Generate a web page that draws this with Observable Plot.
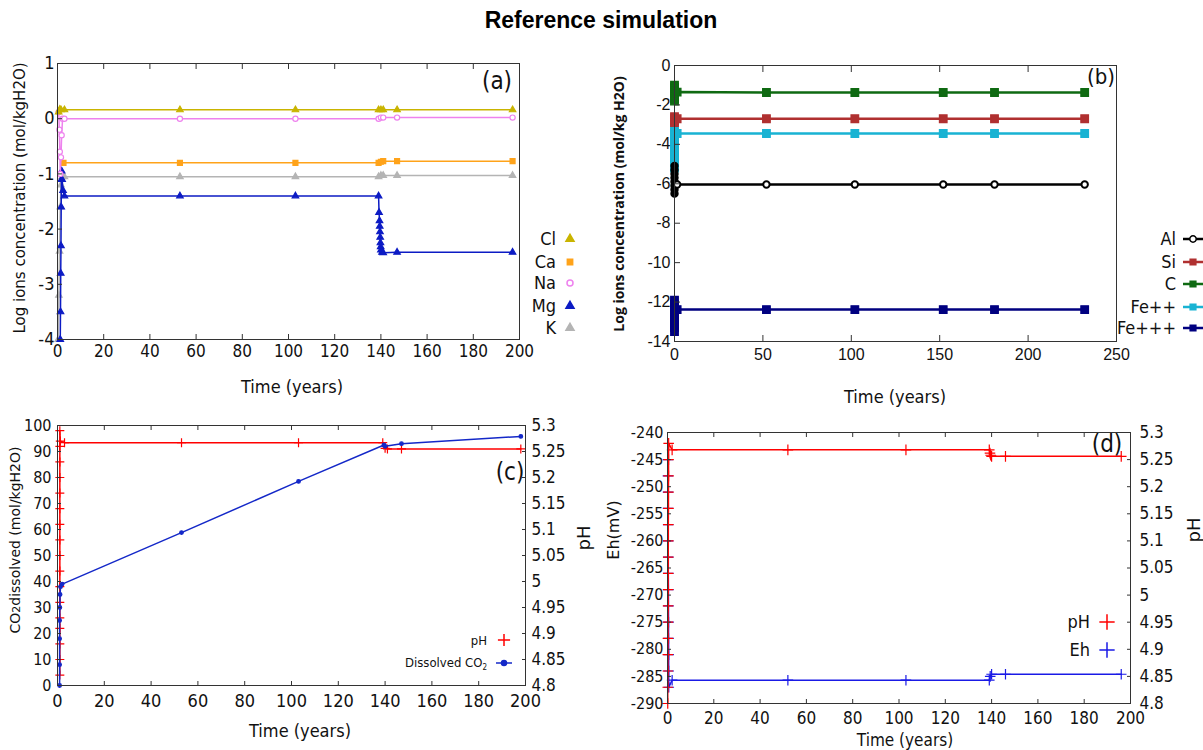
<!DOCTYPE html>
<html><head><meta charset="utf-8">
<script src="https://cdn.jsdelivr.net/npm/d3@7"></script>
<script src="https://cdn.jsdelivr.net/npm/@observablehq/plot@0.6"></script>
<style>
body{margin:0;background:#fff}
#root{position:relative;width:1203px;height:750px;overflow:hidden;background:#fff}
.abs{position:absolute;white-space:nowrap;line-height:1}
</style></head><body><div id="root"></div>
<script>
// ---------------- DATA ----------------
// Panel (a): log ion concentrations (mol/kgH2O) vs time (years)
const aXTicks = [0, 20, 40, 60, 80, 100, 120, 140, 160, 180, 200];
const aYTicks = [1, 0, -1, -2, -3, -4];
const clT = [0.5, 1, 1.5, 3, 53, 103, 139, 140, 141, 147, 197];
const clV = [0.12, 0.17, 0.16, 0.16, 0.16, 0.16, 0.16, 0.16, 0.16, 0.16, 0.16];
const naT = [0.5, 0.8, 1.0, 1.2, 1.5, 1.8, 2.2, 3, 53, 103, 139, 140, 141, 147, 197];
const naV = [0.12, -0.2, -0.6, -1.0, -0.7, -0.3, 0.0, 0.0, 0.0, 0.0, 0.0, 0.02, 0.02, 0.02, 0.02];
const caT = [2.6, 53, 103, 139, 140, 141, 147, 197];
const caV = [-0.8, -0.8, -0.8, -0.8, -0.78, -0.77, -0.77, -0.77];
const kT = [0.3, 0.6, 0.9, 1.2, 1.5, 2.0, 3, 53, 103, 139, 140, 141, 147, 197];
const kV = [-4, -3.2, -2.4, -1.6, -1.2, -1.05, -1.05, -1.05, -1.05, -1.05, -1.03, -1.03, -1.03, -1.03];
const mgT = [1.2, 1.3, 1.4, 1.5, 1.6, 1.7, 1.8, 2.0, 2.4, 3, 53, 103, 139, 139.2, 139.4, 139.5, 139.6, 139.7, 139.8, 139.9, 140, 140.5, 141, 147, 197];
const mgV = [-4, -3.5, -2.8, -2.3, -1.6, -1.1, -0.95, -1.1, -1.3, -1.4, -1.4, -1.4, -1.4, -1.7, -1.85, -1.95, -2.05, -2.15, -2.25, -2.32, -2.38, -2.42, -2.43, -2.42, -2.42];

// Panel (b)
const bXTicks = [0, 50, 100, 150, 200, 250];
const bYTicks = [0, -2, -4, -6, -8, -10, -12, -14];
const alT = [0, 0, 0, 0, 0, 0, 0, 0, 1.5, 52, 102, 152, 181, 232];
const alV = [-5.1, -5.3, -5.5, -5.7, -5.9, -6.1, -6.3, -6.5, -6.04, -6.04, -6.04, -6.04, -6.04, -6.04];
const siT = [0, 0, 0, 0, 1.5, 52, 102, 152, 181, 232];
const siV = [-2.6, -2.7, -2.8, -2.9, -2.7, -2.7, -2.7, -2.7, -2.7, -2.7];
const cT = [0, 0, 0, 0, 0, 0, 0, 0, 0, 1.5, 52, 102, 152, 181, 232];
const cV = [-1.0, -1.1, -1.2, -1.3, -1.4, -1.5, -1.6, -1.7, -1.8, -1.35, -1.37, -1.37, -1.37, -1.37, -1.37];
const fe2T = [0, 0, 0, 0, 0, 0, 0, 0, 0, 0, 0, 1.5, 52, 102, 152, 181, 232];
const fe2V = [-3.2, -3.4, -3.6, -3.8, -4.0, -4.2, -4.4, -4.6, -4.8, -5.0, -5.2, -3.45, -3.45, -3.45, -3.45, -3.45, -3.45];
const fe3T = [0, 0, 0, 0, 0, 0, 0, 0, 0, 1.5, 52, 102, 152, 181, 232];
const fe3V = [-11.9, -12.1, -12.3, -12.5, -12.7, -12.9, -13.1, -13.3, -13.5, -12.38, -12.38, -12.38, -12.38, -12.38, -12.38];

// Panel (c)
const cXTicks = [0, 20, 40, 60, 80, 100, 120, 140, 160, 180, 200];
const cYTicks = [0, 10, 20, 30, 40, 50, 60, 70, 80, 90, 100];
const phTicks = [4.8, 4.85, 4.9, 4.95, 5, 5.05, 5.1, 5.15, 5.2, 5.25, 5.3];
const phCT = [1, 1, 1, 1, 1, 1, 1, 1, 1, 1, 1, 1, 1, 1, 1, 1, 1, 1.2, 3, 53, 103, 139, 140, 141, 147, 198];
const phCV = [4.82, 4.85, 4.88, 4.91, 4.93, 4.96, 4.99, 5.02, 5.05, 5.08, 5.11, 5.14, 5.17, 5.2, 5.23, 5.26, 5.29, 5.27, 5.267, 5.267, 5.267, 5.267, 5.256, 5.255, 5.255, 5.255];
const co2T = [0.9, 0.9, 0.9, 0.9, 1.0, 1.1, 1.3, 2, 53, 103, 139.5, 140, 147, 198];
const co2V = [0, 8, 18, 25, 30, 35, 38, 39, 58.8, 78.5, 92.5, 92, 93, 95.8];

// Panel (d)
const dXTicks = [0, 20, 40, 60, 80, 100, 120, 140, 160, 180, 200];
const dYTicks = [-240, -245, -250, -255, -260, -265, -270, -275, -280, -285, -290];
const phDT = [0.1, 0.1, 0.15, 0.15, 0.2, 0.2, 0.25, 0.25, 0.3, 0.3, 0.35, 0.35, 0.4, 0.4, 0.45, 0.45, 0.5, 2, 52, 103, 139, 139.3, 139.6, 140, 146, 196];
const phDV = [4.8, 4.83, 4.86, 4.89, 4.92, 4.95, 4.98, 5.01, 5.04, 5.07, 5.1, 5.13, 5.16, 5.19, 5.22, 5.25, 5.28, 5.268, 5.268, 5.268, 5.268, 5.262, 5.258, 5.256, 5.256, 5.256];
const ehT = [0.2, 0.2, 0.25, 0.25, 0.3, 0.3, 0.35, 0.35, 0.4, 0.4, 0.45, 0.45, 0.5, 0.5, 0.55, 2, 52, 103, 139, 139.4, 140, 146, 196];
const ehV = [-245, -248, -251, -254, -257, -260, -263, -266, -269, -272, -275, -278, -281, -284, -287, -285.7, -285.7, -285.7, -285.7, -285, -284.6, -284.6, -284.6];

// ---------------- HELPERS ----------------
const root = document.getElementById("root");
const NARROW = '"Liberation Sans Narrow","DejaVu Sans Condensed","Liberation Sans",Arial,sans-serif';
const SANS = '"DejaVu Sans",Verdana,sans-serif';
const ARIAL = '"Liberation Sans",Arial,sans-serif';
const rows = (T, V) => T.map((t, i) => ({t, v: V[i]}));
const fmt = d => String(+(+d).toFixed(2));

function label(txt, x, y, {size = 14, font = SANS, rotate = false, weight = "normal", color = "#111", html = false, anchor = "middle"} = {}) {
  const d = document.createElement("div");
  d.className = "abs";
  if (html) d.innerHTML = txt; else d.textContent = txt;
  const tx = anchor === "end" ? "-100%" : anchor === "start" ? "0" : "-50%";
  Object.assign(d.style, {left: x + "px", top: y + "px", fontSize: size + "px", fontFamily: font, fontWeight: weight, color,
    transform: `translate(${tx},-50%)${rotate ? " rotate(-90deg)" : ""}`});
  root.appendChild(d);
}
const symbolMap = {triangle: d3.symbolTriangle, square: d3.symbolSquare, circle: d3.symbolCircle, plus: d3.symbolPlus};
function legendItem(txt, rightX, y, markerX, color, symbol, {size = 17, font = NARROW, fill = color, r = 3, lineW = 20, strokeWidth = 1.5} = {}) {
  if (txt) label(txt, rightX, y, {size, font, anchor: "end"});
  const ns = "http://www.w3.org/2000/svg";
  const svg = document.createElementNS(ns, "svg");
  const w = lineW + 12, h = 20;
  svg.setAttribute("width", w); svg.setAttribute("height", h);
  Object.assign(svg.style, {position: "absolute", left: (markerX - w / 2) + "px", top: (y - h / 2) + "px", overflow: "visible"});
  const line = document.createElementNS(ns, "line");
  line.setAttribute("x1", w / 2 - lineW / 2); line.setAttribute("x2", w / 2 + lineW / 2);
  line.setAttribute("y1", h / 2); line.setAttribute("y2", h / 2);
  line.setAttribute("stroke", color); line.setAttribute("stroke-width", strokeWidth);
  svg.appendChild(line);
  const p = document.createElementNS(ns, "path");
  p.setAttribute("d", d3.symbol(symbolMap[symbol], Math.PI * r * r)());
  p.setAttribute("transform", `translate(${w / 2},${h / 2})`);
  p.setAttribute("fill", fill); p.setAttribute("stroke", color); p.setAttribute("stroke-width", 1.5);
  svg.appendChild(p);
  root.appendChild(svg);
}
function panel({left, top, width, height, mL, mR, mT, mB, xDomain, yDomain, marks}) {
  const svg = Plot.plot({width, height, marginLeft: mL, marginRight: mR, marginTop: mT, marginBottom: mB,
    x: {domain: xDomain}, y: {domain: yDomain},
    style: {background: "transparent", overflow: "visible", color: "#111"}, marks});
  svg.style.position = "absolute"; svg.style.left = left + "px"; svg.style.top = top + "px";
  root.appendChild(svg);
}
function seriesMarks(list, lineW) {
  const out = [];
  for (const s of list) {
    const data = rows(s.t, s.v);
    out.push(Plot.line(data, {x: "t", y: "v", stroke: s.color, strokeWidth: lineW}));
    out.push(Plot.dot(data, {x: "t", y: "v", symbol: s.symbol, r: s.r, fill: s.fill, stroke: s.color, strokeWidth: s.sw || 1.2}));
  }
  return out;
}
const TICK = "#333";

// ---------------- TITLE ----------------
label("Reference simulation", 601, 20, {size: 23, font: ARIAL, weight: "bold", color: "#000"});

// ---------------- PANEL (a) ----------------
const aSeries = [
  {name: "K", t: kT, v: kV, color: "#b4b4b4", symbol: "triangle", r: 2.4, fill: "#b4b4b4"},
  {name: "Mg", t: mgT, v: mgV, color: "#0c1bc4", symbol: "triangle", r: 2.4, fill: "#0c1bc4"},
  {name: "Ca", t: caT, v: caV, color: "#ffa31a", symbol: "square", r: 2.8, fill: "#ffa31a"},
  {name: "Na", t: naT, v: naV, color: "#ee82ee", symbol: "circle", r: 2.6, fill: "white"},
  {name: "Cl", t: clT, v: clV, color: "#c9b400", symbol: "triangle", r: 2.4, fill: "#c9b400"}
];
panel({left: 0, top: 40, width: 600, height: 380, mL: 57, mR: 81, mT: 23, mB: 81, xDomain: [0, 200], yDomain: [-4, 1], marks: [
  ...seriesMarks(aSeries, 1.5),
  Plot.frame({stroke: TICK}),
  Plot.axisX({anchor: "bottom", ticks: aXTicks, tickFormat: fmt, tickSize: -5, tickPadding: 10, fontSize: 17, fontFamily: NARROW, stroke: TICK, label: null}),
  Plot.axisX({anchor: "top", ticks: aXTicks, tickFormat: () => "", tickSize: -5, stroke: TICK, label: null}),
  Plot.axisY({anchor: "left", ticks: aYTicks, tickFormat: fmt, tickSize: -5, tickPadding: 8, fontSize: 18, fontFamily: NARROW, stroke: TICK, label: null})
]});
label("Log ions concentration (mol/kgH2O)", 20, 198, {size: 15, rotate: true});
label("Time (years)", 292, 387, {size: 18, font: NARROW});
label("(a)", 497, 81, {size: 24, font: NARROW});
const aLeg = [["Cl", "#c9b400", "triangle", "#c9b400"], ["Ca", "#ffa31a", "square", "#ffa31a"], ["Na", "#ee82ee", "circle", "white"], ["Mg", "#0c1bc4", "triangle", "#0c1bc4"], ["K", "#b4b4b4", "triangle", "#b4b4b4"]];
const aLegY = [239, 262, 283, 306, 328];
aLeg.forEach(([n, c, s, f], i) => legendItem(n, 556, aLegY[i], 570, c, s, {size: 18, fill: f, r: 3, lineW: 0}));

// ---------------- PANEL (b) ----------------
const bSeries = [
  {name: "Fe+++", t: fe3T, v: fe3V, color: "#000080", symbol: "square", r: 4.3, fill: "#000080"},
  {name: "Fe++", t: fe2T, v: fe2V, color: "#19b3d3", symbol: "square", r: 4.3, fill: "#19b3d3"},
  {name: "Al", t: alT, v: alV, color: "#000000", symbol: "circle", r: 3.2, fill: d => (d.t < 1 ? "#000" : "white"), sw: 2},
  {name: "Si", t: siT, v: siV, color: "#b03030", symbol: "square", r: 4.3, fill: "#b03030"},
  {name: "C", t: cT, v: cV, color: "#0f6a12", symbol: "square", r: 4.3, fill: "#0f6a12"}
];
panel({left: 600, top: 40, width: 603, height: 400, mL: 74, mR: 87, mT: 25, mB: 99, xDomain: [0, 250], yDomain: [-14, 0], marks: [
  ...seriesMarks(bSeries, 2.5),
  Plot.frame({stroke: TICK}),
  Plot.axisX({anchor: "bottom", ticks: bXTicks, tickFormat: fmt, tickSize: -6, tickPadding: 13, fontSize: 16, fontFamily: ARIAL, stroke: TICK, label: null}),
  Plot.axisX({anchor: "top", ticks: bXTicks, tickFormat: () => "", tickSize: -6, stroke: TICK, label: null}),
  Plot.axisY({anchor: "left", ticks: bYTicks, tickFormat: fmt, tickSize: -6, tickPadding: 10, fontSize: 16, fontFamily: ARIAL, stroke: TICK, label: null})
]});
label("Log ions concentration (mol/kg H2O)", 619, 204, {size: 14, rotate: true, weight: "bold", font: '"Open Sans","DejaVu Sans",sans-serif'});
label("Time (years)", 895, 397, {size: 18, font: NARROW});
label("(b)", 1101, 77, {size: 22, font: NARROW});
const bLeg = [["Al", "#000000", "circle", "white"], ["Si", "#b03030", "square", "#b03030"], ["C", "#0f6a12", "square", "#0f6a12"], ["Fe++", "#19b3d3", "square", "#19b3d3"], ["Fe+++", "#000080", "square", "#000080"]];
const bLegY = [239, 262, 284, 307, 328];
bLeg.forEach(([n, c, s, f], i) => legendItem(n, 1176, bLegY[i], 1193, c, s, {size: 18, fill: f, r: 3.2, lineW: 20, strokeWidth: 2.5}));

// ---------------- PANEL (c) ----------------
const phToCo2 = p => (p - 4.8) * 200;
const cSeries = [
  {name: "pH", t: phCT, v: phCV.map(phToCo2), color: "#ff0000", symbol: "plus", r: 3, fill: "none", sw: 1.2},
  {name: "CO2", t: co2T, v: co2V, color: "#1428c8", symbol: "circle", r: 1.8, fill: "#1428c8"}
];
panel({left: 0, top: 400, width: 600, height: 350, mL: 57, mR: 75, mT: 25, mB: 65, xDomain: [0, 200], yDomain: [0, 100], marks: [
  ...seriesMarks(cSeries, 1.5),
  Plot.frame({stroke: TICK}),
  Plot.axisX({anchor: "bottom", ticks: cXTicks, tickFormat: fmt, tickSize: -4, tickPadding: 13, fontSize: 18, fontFamily: NARROW, stroke: TICK, label: null}),
  Plot.axisX({anchor: "top", ticks: cXTicks, tickFormat: () => "", tickSize: -4, stroke: TICK, label: null}),
  Plot.axisY({anchor: "left", ticks: cYTicks, tickFormat: fmt, tickSize: -4, tickPadding: 10, fontSize: 16, fontFamily: NARROW, stroke: TICK, label: null}),
  Plot.axisY({anchor: "right", ticks: phTicks.map(phToCo2), tickFormat: d => fmt(4.8 + d / 200), tickSize: -4, tickPadding: 10, fontSize: 17, fontFamily: NARROW, stroke: TICK, label: null})
]});
label('CO<span style="font-size:11px">2</span>dissolved (mol/kgH2O)', 15, 540, {size: 14, rotate: true, html: true});
label("pH", 584, 538, {size: 18, rotate: true});
label("Time (years)", 300, 731, {size: 18, font: NARROW});
label("(c)", 510, 472, {size: 24, font: NARROW});
legendItem("pH", 487, 640, 504, "#ff0000", "plus", {size: 13, fill: "none", r: 4, lineW: 0});
label('Dissolved CO<sub style="font-size:8px">2</sub>', 487, 664, {size: 13, font: NARROW, html: true, anchor: "end"});
legendItem("", 487, 663, 504, "#1428c8", "circle", {size: 13, fill: "#1428c8", r: 2.5, lineW: 16, strokeWidth: 1.5});

// ---------------- PANEL (d) ----------------
const phToEh = p => -290 + (p - 4.8) * 100;
const dSeries = [
  {name: "Eh", t: ehT, v: ehV, color: "#1a1ae6", symbol: "plus", r: 3.5, fill: "none", sw: 1.2},
  {name: "pH", t: phDT, v: phDV.map(phToEh), color: "#ff0000", symbol: "plus", r: 3.5, fill: "none", sw: 1.2}
];
panel({left: 600, top: 400, width: 603, height: 350, mL: 67, mR: 73, mT: 32, mB: 47, xDomain: [0, 200], yDomain: [-290, -240], marks: [
  ...seriesMarks(dSeries, 1.5),
  Plot.frame({stroke: TICK}),
  Plot.axisX({anchor: "bottom", ticks: dXTicks, tickFormat: fmt, tickSize: -4, tickPadding: 12, fontSize: 17, fontFamily: NARROW, stroke: TICK, label: null}),
  Plot.axisX({anchor: "top", ticks: dXTicks, tickFormat: () => "", tickSize: -4, stroke: TICK, label: null}),
  Plot.axisY({anchor: "left", ticks: dYTicks, tickFormat: fmt, tickSize: -4, tickPadding: 8, fontSize: 16, fontFamily: NARROW, stroke: TICK, label: null}),
  Plot.axisY({anchor: "right", ticks: phTicks.map(phToEh), tickFormat: d => fmt(4.8 + (d + 290) / 100), tickSize: -4, tickPadding: 13, fontSize: 17, fontFamily: NARROW, stroke: TICK, label: null})
]});
label("Eh(mV)", 614, 530, {size: 16, rotate: true});
label("pH", 1194, 530, {size: 18, rotate: true});
label("Time (years)", 905, 740, {size: 17, font: NARROW});
label("(d)", 1107, 444, {size: 24, font: NARROW});
legendItem("pH", 1090, 622, 1107, "#ff0000", "plus", {size: 18, fill: "none", r: 5, lineW: 0});
legendItem("Eh", 1090, 650, 1107, "#1a1ae6", "plus", {size: 18, fill: "none", r: 5, lineW: 0});
</script>
</body></html>
